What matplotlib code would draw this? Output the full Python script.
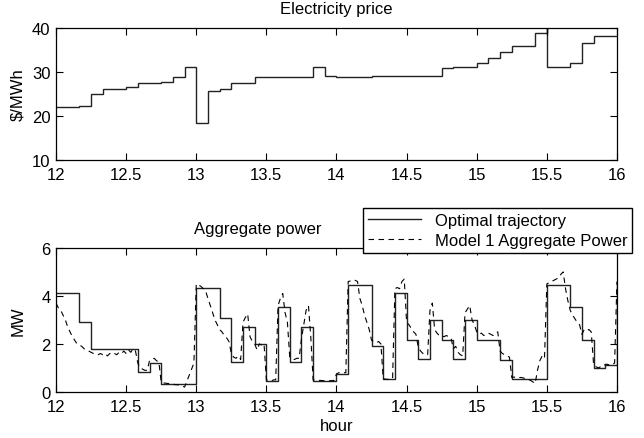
import numpy as np
import matplotlib.pyplot as plt

plt.rcParams['font.family'] = ['Liberation Sans', 'DejaVu Sans']
plt.rcParams['font.size'] = 12

# price: 5-minute intervals from 12:00 to 16:00 ($/MWh)
price_edges = [12 + i / 12 for i in range(42)] + [15.5, 15.502] + [12 + i / 12 for i in range(43, 49)]
price_vals = [22, 22, 22.3, 25, 26.2, 26.2, 26.6, 27.4, 27.4, 27.8, 28.8, 31.2,
              18.5, 25.8, 26.2, 27.4, 27.4, 28.8, 28.8, 28.8, 28.8, 28.8, 31.2, 29.2,
              28.8, 28.8, 28.8, 29.2, 29.2, 29.2, 29.2, 29.2, 29.2, 30.8, 31.2, 31.2,
              32, 33.2, 34.6, 35.8, 35.8, 38.8, 42, 31.2, 31.2, 32, 36.6, 38.2, 38.2]

# optimal aggregate power, 5-minute intervals (MW); last value is at 16:00
opt_t = [12 + i / 12 for i in range(49)]
opt_vals = [4.12, 4.12, 2.92, 1.8, 1.8, 1.8, 1.8, 0.85, 1.2, 0.33, 0.33, 0.33,
            4.32, 4.32, 3.1, 1.26, 2.72, 1.98, 0.46, 3.53, 1.26, 2.72, 0.46, 0.46,
            0.76, 4.45, 4.45, 1.9, 0.53, 4.12, 2.18, 1.39, 3.0, 2.18, 1.39, 3.0,
            2.18, 2.18, 1.33, 0.53, 0.53, 0.53, 4.45, 4.45, 3.53, 2.18, 1.0, 1.13,
            4.55]

# model 1 aggregate power, 1-minute samples (MW)
model_vals = [
    3.7, 3.5, 3.4, 3.2, 3.0,
    2.7, 2.5, 2.3, 2.15, 2.0,
    1.95, 1.9, 1.8, 1.75, 1.7,
    1.65, 1.6, 1.6, 1.55, 1.6,
    1.55, 1.6, 1.5, 1.6, 1.55,
    1.6, 1.55, 1.65, 1.6, 1.7,
    1.6, 1.75, 1.65, 1.8, 1.7,
    1.2, 1.0, 0.95, 0.9, 0.9,
    1.3, 1.35, 1.4, 1.3, 1.25,
    0.4, 0.38, 0.36, 0.35, 0.35,
    0.33, 0.3, 0.3, 0.28, 0.25,
    0.2, 0.45, 0.7, 0.95, 1.2,
    4.5, 4.45, 4.4, 4.3, 4.2,
    3.9, 3.6, 3.3, 3.0, 2.8,
    2.6, 2.5, 2.35, 2.25, 2.1,
    1.6, 1.45, 1.4, 1.5, 1.35,
    2.9, 3.1, 3.25, 2.3, 2.1,
    2.0, 1.75, 2.0, 1.95, 2.0,
    0.5, 0.48, 0.45, 0.5, 0.5,
    3.6, 3.9, 4.1, 3.3, 2.9,
    1.45, 1.4, 1.35, 1.4, 1.4,
    2.2, 2.8, 3.4, 3.6, 2.3,
    0.5, 0.5, 0.48, 0.48, 0.47,
    0.47, 0.46, 0.46, 0.47, 0.48,
    0.75, 0.8, 0.78, 0.8, 0.8,
    4.6, 4.62, 4.6, 4.65, 4.6,
    3.9, 3.6, 3.2, 2.9, 2.6,
    2.15, 2.1, 2.05, 2.1, 2.0,
    0.55, 0.53, 0.52, 0.53, 0.55,
    4.3, 4.35, 4.3, 4.6, 4.7,
    2.9, 2.8, 2.65, 2.5, 2.4,
    1.85, 1.7, 1.6, 1.6, 1.55,
    3.4, 3.7, 2.6, 2.45, 2.35,
    2.35, 2.3, 2.35, 2.3, 2.25,
    1.8, 1.9, 1.65, 1.55, 1.5,
    3.3, 3.45, 3.6, 3.0, 2.8,
    2.5, 2.4, 2.45, 2.35, 2.4,
    2.45, 2.4, 2.35, 2.45, 2.5,
    1.7, 1.6, 1.55, 1.5, 1.45,
    0.6, 0.62, 0.58, 0.6, 0.6,
    0.58, 0.55, 0.52, 0.48, 0.42,
    0.35, 0.9, 1.3, 1.5, 1.4,
    4.5, 4.55, 4.6, 4.65, 4.7,
    4.75, 4.9, 5.0, 4.3, 3.8,
    3.4, 3.2, 3.05, 2.9, 2.8,
    2.4, 2.6, 2.55, 2.6, 2.5,
    1.15, 1.05, 1.0, 1.05, 1.05,
    1.15, 1.15, 1.1, 1.15, 1.2,
    4.6]
model_t = [12 + k / 60 for k in range(len(model_vals))]

xticks = [12, 12.5, 13, 13.5, 14, 14.5, 15, 15.5, 16]
xticklabels = ['12', '12.5', '13', '13.5', '14', '14.5', '15', '15.5', '16']

fig = plt.figure(figsize=(6.44, 4.39), dpi=100)
ax1 = fig.add_axes([0.087, 0.633, 0.871, 0.301])
ax2 = fig.add_axes([0.087, 0.105, 0.871, 0.328])

ax1.stairs(price_vals, price_edges, color='#222222', lw=1.0, baseline=None)
ax1.set_xlim(12, 16)
ax1.set_ylim(10, 40)
ax1.set_yticks([10, 20, 30, 40])
ax1.set_ylabel('\\$/MWh', labelpad=5)
ax1.set_title('Electricity price', fontsize=12, pad=11)

l1, = ax2.step(opt_t, opt_vals, where='post', color='#222222', lw=1.0)
l2, = ax2.plot(model_t, model_vals, color='black', lw=0.8, dashes=(5, 4))
ax2.set_xlim(12, 16)
ax2.set_ylim(0, 6)
ax2.set_yticks([0, 2, 4, 6])
ax2.set_ylabel('MW', labelpad=11)
ax2.set_xlabel('hour', labelpad=3)
ax2.set_title('Aggregate power', fontsize=12, x=0.36, pad=11)

for ax in (ax1, ax2):
    ax.set_xticks(xticks)
    ax.set_xticklabels(xticklabels)
    ax.tick_params(direction='in', top=True, right=True, length=5, width=0.8)
    ax.tick_params(axis='x', pad=5)
    ax.tick_params(axis='y', pad=4)
    for s in ax.spines.values():
        s.set_linewidth(0.9)

fig.legend([l1, l2], ['Optimal trajectory', 'Model 1 Aggregate Power'],
           loc='lower left', bbox_to_anchor=(0.5637, 0.4214), fancybox=False,
           edgecolor='black', framealpha=1, borderaxespad=0, handlelength=3.2,
           borderpad=0.3, labelspacing=0.3)

fig.savefig('out.png', dpi=100)
